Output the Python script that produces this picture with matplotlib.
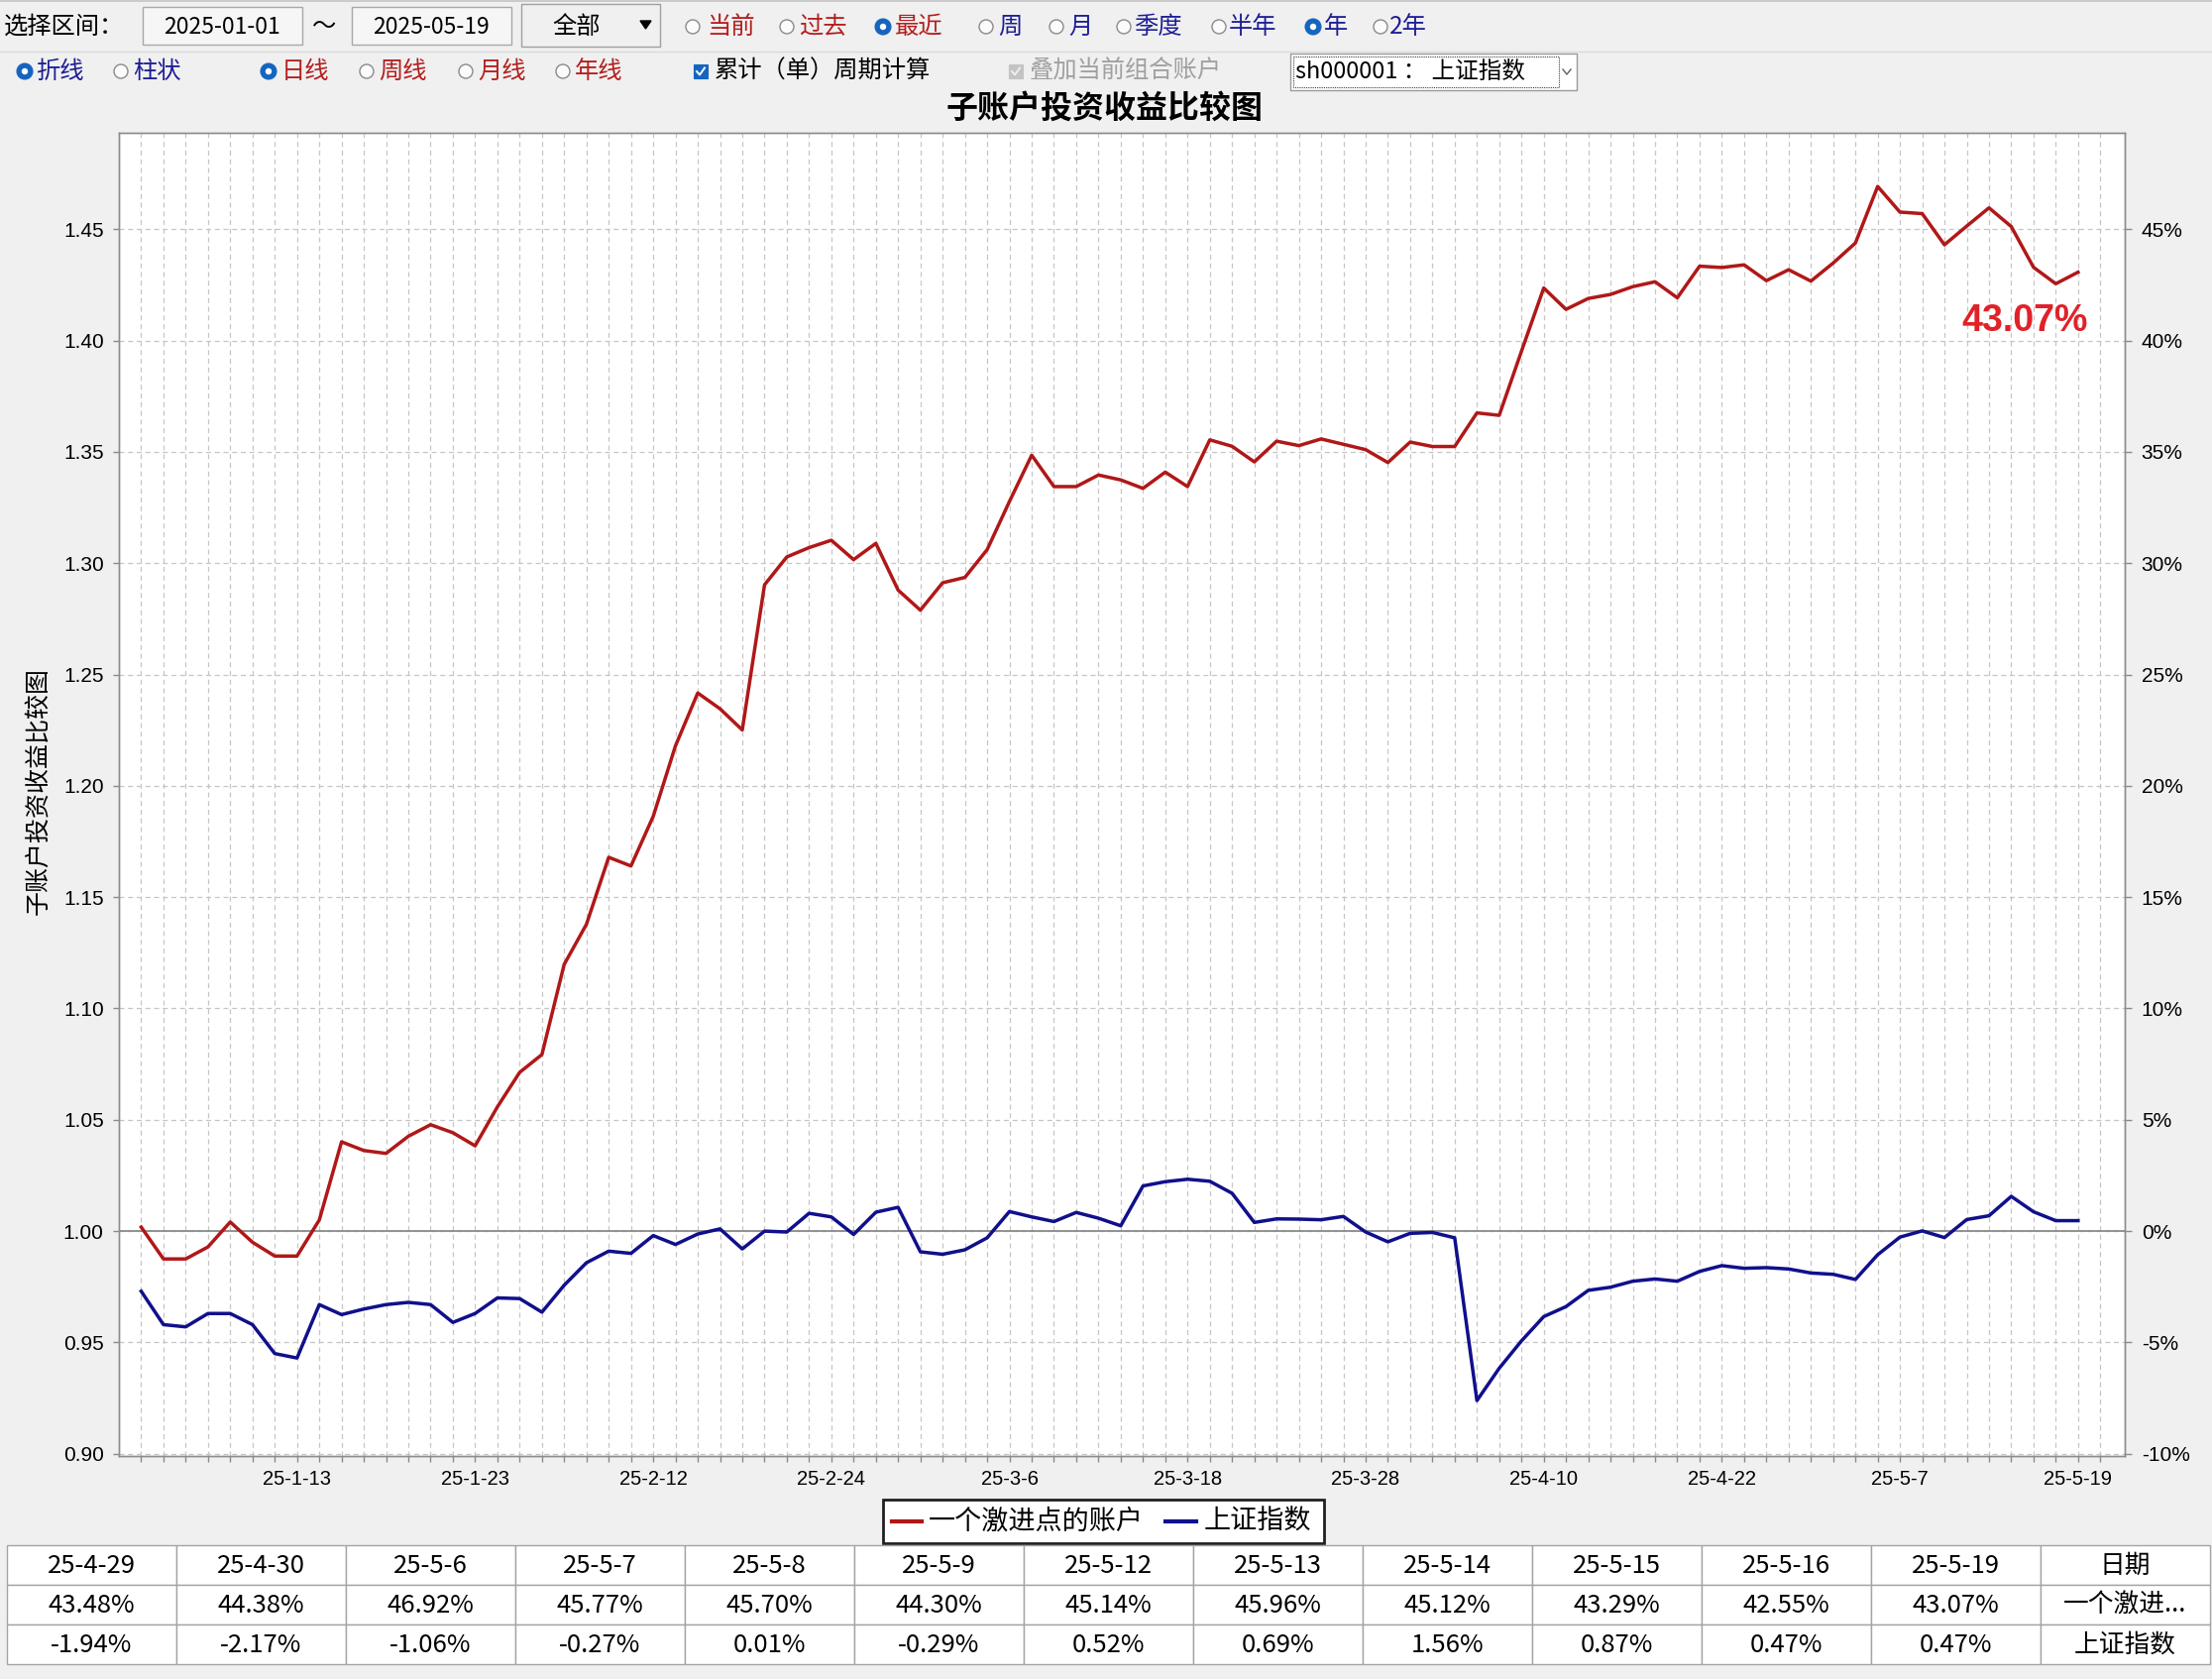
import numpy as np
import pandas as pd
import matplotlib
matplotlib.use("Agg")
import matplotlib.pyplot as plt
from matplotlib.patches import Rectangle, Circle, Polygon

# ---------------- data ----------------
holidays = ["2025-01-28", "2025-01-29", "2025-01-30", "2025-01-31", "2025-02-03",
            "2025-02-04", "2025-04-04", "2025-05-01", "2025-05-02", "2025-05-05"]
trade_days = [d for d in pd.bdate_range("2025-01-02", "2025-05-19")
              if d.strftime("%Y-%m-%d") not in holidays]

series_names = ["一个激进点的账户", "上证指数"]

account = [1.0018, 0.9875, 0.9875, 0.9929, 1.0041, 0.9950, 0.9888, 0.9888, 1.0050, 1.0401,
           1.0362, 1.0349, 1.0426, 1.0478, 1.0442, 1.0383, 1.0558, 1.0713, 1.0793, 1.1198,
           1.1378, 1.1679, 1.1640, 1.1863, 1.2180, 1.2417, 1.2346, 1.2251, 1.2903, 1.3028,
           1.3070, 1.3103, 1.3016, 1.3089, 1.2879, 1.2789, 1.2912, 1.2936, 1.3061, 1.3277,
           1.3485, 1.3344, 1.3344, 1.3396, 1.3374, 1.3336, 1.3409, 1.3344, 1.3554, 1.3525,
           1.3455, 1.3548, 1.3528, 1.3558, 1.3534, 1.3510, 1.3452, 1.3544, 1.3524, 1.3524,
           1.3675, 1.3664, 1.3952, 1.4236, 1.4140, 1.4189, 1.4207, 1.4242, 1.4264, 1.4192,
           1.4334, 1.4328, 1.4340, 1.4269, 1.4318, 1.4267, 1.4348, 1.4438, 1.4692, 1.4577,
           1.4570, 1.4430, 1.4514, 1.4596, 1.4512, 1.4329, 1.4255, 1.4307]

sse_index = [0.9730, 0.9580, 0.9570, 0.9630, 0.9630, 0.9580, 0.9450, 0.9430, 0.9670, 0.9625,
             0.9650, 0.9670, 0.9680, 0.9670, 0.9590, 0.9630, 0.9700, 0.9697, 0.9636, 0.9757,
             0.9858, 0.9910, 0.9900, 0.9980, 0.9940, 0.9987, 1.0010, 0.9920, 1.0000, 0.9996,
             1.0080, 1.0064, 0.9985, 1.0085, 1.0107, 0.9907, 0.9896, 0.9916, 0.9970, 1.0088,
             1.0064, 1.0043, 1.0084, 1.0058, 1.0024, 1.0203, 1.0222, 1.0233, 1.0224, 1.0170,
             1.0039, 1.0055, 1.0054, 1.0051, 1.0066, 0.9996, 0.9952, 0.9990, 0.9994, 0.9970,
             0.9239, 0.9384, 0.9507, 0.9616, 0.9661, 0.9734, 0.9748, 0.9775, 0.9785, 0.9775,
             0.9819, 0.9845, 0.9833, 0.9836, 0.9830, 0.9812, 0.9806, 0.9783, 0.9894, 0.9973,
             1.0001, 0.9971, 1.0052, 1.0069, 1.0156, 1.0087, 1.0047, 1.0047]

left_ticks = [0.90, 0.95, 1.00, 1.05, 1.10, 1.15, 1.20, 1.25, 1.30, 1.35, 1.40, 1.45]
right_ticks = [-10, -5, 0, 5, 10, 15, 20, 25, 30, 35, 40, 45]

table_dates = ["25-4-29", "25-4-30", "25-5-6", "25-5-7", "25-5-8", "25-5-9",
               "25-5-12", "25-5-13", "25-5-14", "25-5-15", "25-5-16", "25-5-19"]
table_account = ["43.48%", "44.38%", "46.92%", "45.77%", "45.70%", "44.30%",
                 "45.14%", "45.96%", "45.12%", "43.29%", "42.55%", "43.07%"]
table_sse = ["-1.94%", "-2.17%", "-1.06%", "-0.27%", "0.01%", "-0.29%",
             "0.52%", "0.69%", "1.56%", "0.87%", "0.47%", "0.47%"]
table_side = ["日期", "一个激进...", "上证指数"]

# ---------------- figure ----------------
W, H = 2232, 1694
DPI = 100
BG = "#f0f0f0"
CJK = ["Noto Sans CJK SC", "DejaVu Sans"]
LAT = ["Liberation Sans", "DejaVu Sans"]
RED_T = "#b41e1e"
BLUE_T = "#1e1e96"
RED_L = "#b01818"
BLUE_L = "#10108c"

fig = plt.figure(figsize=(W / DPI, H / DPI), dpi=DPI, facecolor=BG)

# overlay axes in pixel coordinates for the window widgets
ui = fig.add_axes([0, 0, 1, 1])
ui.set_xlim(0, W)
ui.set_ylim(H, 0)
ui.axis("off")

def txt(x, y, s, size=17.5, color="black", ha="left", va="center", **kw):
    ui.text(x, y, s, fontsize=size, color=color, ha=ha, va=va, family=CJK, **kw)

def radio(x, y, checked):
    if checked:
        ui.add_patch(Circle((x, y), 8.0, fc="#1565c0", ec="#1565c0", lw=0.8))
        ui.add_patch(Circle((x, y), 3.2, fc="white", ec="none"))
    else:
        ui.add_patch(Circle((x, y), 7.0, fc="#fbfbfb", ec="#8a8a8a", lw=1.0))

def checkbox(x, y, fc, cc):
    ui.add_patch(Rectangle((x - 7, y - 7), 14, 14, fc=fc, ec=fc, lw=0.8))
    ui.plot([x - 4, x - 1, x + 4], [y, y + 3.5, y - 3.5], color=cc, lw=1.4)

# lines of the window
ui.plot([0, W], [1.5, 1.5], color="#c4c4c4", lw=1.2)
ui.plot([0, W], [52, 52], color="#dadada", lw=1.0)

# row 1
R1 = 27
txt(4, R1, "选择区间：")
ui.add_patch(Rectangle((144, 7), 161, 38, fc="#f6f6f6", ec="#a8a8a8", lw=1))
txt(224, R1, "2025-01-01", ha="center", size=16.5)
txt(327, R1, "～", ha="center")
ui.add_patch(Rectangle((355, 7), 161, 38, fc="#f6f6f6", ec="#a8a8a8", lw=1))
txt(435, R1, "2025-05-19", ha="center", size=16.5)
ui.add_patch(Rectangle((526, 4), 140, 43, fc="#f0f0f0", ec="#a0a0a0", lw=1))
txt(582, R1, "全部", ha="center")
ui.add_patch(Polygon([[646, 21], [657, 21], [651.5, 29]], closed=True, fc="black", ec="black"))

row1 = [(699, 713, "当前", RED_T, False), (794, 806, "过去", RED_T, False),
        (891, 903, "最近", RED_T, True), (995, 1007, "周", BLUE_T, False),
        (1066, 1078, "月", BLUE_T, False), (1134, 1144, "季度", BLUE_T, False),
        (1230, 1240, "半年", BLUE_T, False), (1325, 1336, "年", BLUE_T, True),
        (1393, 1402, "2年", BLUE_T, False)]
for cx, tx, s, col, chk in row1:
    radio(cx, R1, chk)
    txt(tx, R1, s, color=col)

# row 2
R2 = 72
row2 = [(25, 36, "折线", BLUE_T, True), (122, 134, "柱状", BLUE_T, False),
        (271, 284, "日线", RED_T, True), (370, 382, "周线", RED_T, False),
        (470, 482, "月线", RED_T, False), (568, 580, "年线", RED_T, False)]
for cx, tx, s, col, chk in row2:
    radio(cx, R2, chk)
    txt(tx, R2, s, color=col)
checkbox(707, R2, "#1565c0", "white")
txt(721, R2, "累计（单）周期计算")
checkbox(1025, R2, "#c4c4c4", "#eeeeee")
txt(1039, R2, "叠加当前组合账户", color="#a0a0a0")
ui.add_patch(Rectangle((1302, 54), 289, 37, fc="white", ec="#9a9a9a", lw=1))
ui.add_patch(Rectangle((1305, 57), 268, 31, fc="none", ec="#404040", lw=0.8, ls=(0, (1, 1))))
txt(1307, R2, "sh000001 ： 上证指数", size=17)
ui.plot([1577, 1581, 1585], [70, 75, 70], color="#606060", lw=1)

# title and y label
txt(1115, 110, "子账户投资收益比较图", ha="center", size=23, weight="bold")
txt(38, 798, "子账户投资收益比较图", ha="center", size=18, rotation=90)

# ---------------- main chart ----------------
L, R, T, B = 120, 2144, 134, 1469
ax = fig.add_axes([L / W, 1 - B / H, (R - L) / W, (B - T) / H])
ax.set_facecolor("white")
x = np.arange(len(trade_days))
ax.plot(x, account, color=RED_L, lw=2.5, zorder=4, solid_joinstyle="round")
ax.plot(x, sse_index, color=BLUE_L, lw=2.5, zorder=4, solid_joinstyle="round")

YMIN, YMAX = 0.899, 1.4933
ax.set_xlim(-1, 89.1)
ax.set_ylim(YMIN, YMAX)

ax.set_xticks(np.arange(0, len(trade_days) + 1))
xlabels = [""] * (len(trade_days) + 1)
for i in range(7, len(trade_days), 8):
    d = trade_days[i]
    xlabels[i] = f"{d.year % 100}-{d.month}-{d.day}"
ax.set_xticklabels(xlabels, family=LAT, fontsize=14.5)
ax.set_yticks(left_ticks)
ax.set_yticklabels([f"{v:.2f}" for v in left_ticks], family=LAT, fontsize=15)

ax.grid(True, which="major", ls=(0, (4, 3)), color="#c6c6c6", lw=0.9, zorder=1)
ax.axhline(1.0, color="#8a8a8a", lw=1.3, zorder=2)
ax.tick_params(axis="both", direction="out", length=4, color="#8a8a8a", width=1)
ax.tick_params(axis="x", pad=6)
ax.tick_params(axis="y", pad=7)
for sp in ax.spines.values():
    sp.set_color("#8c8c8c")
    sp.set_linewidth(1.0)

ax2 = ax.twinx()
ax2.set_ylim((YMIN - 1) * 100, (YMAX - 1) * 100)
ax2.set_yticks(right_ticks)
ax2.set_yticklabels([f"{v}%" for v in right_ticks], family=LAT, fontsize=15)
ax2.tick_params(axis="y", direction="out", length=5, color="#8a8a8a", width=1, pad=7)
for sp in ax2.spines.values():
    sp.set_color("#8c8c8c")
    sp.set_linewidth(1.0)

# final value annotation
ui.text(2043, 324, f"{(account[-1] - 1) * 100:.2f}%", fontsize=27, color="#e02228",
        ha="center", va="center", family=LAT, weight="bold", zorder=10)
ui.set_zorder(5)
ui.patch.set_alpha(0)

# ---------------- legend ----------------
ui.add_patch(Rectangle((891, 1513), 445, 44, fc="white", ec="#202020", lw=2))
ui.plot([900, 930], [1535, 1535], color=RED_L, lw=3)
txt(937, 1535, series_names[0], size=19.5)
ui.plot([1176, 1207], [1535, 1535], color=BLUE_L, lw=3)
txt(1215, 1535, series_names[1], size=19.5)

# ---------------- table ----------------
TX0, TY0, CW, RH = 7, 1559, 171, 40
rows = [table_dates + [table_side[0]],
        table_account + [table_side[1]],
        table_sse + [table_side[2]]]
for r, row in enumerate(rows):
    for c, s in enumerate(row):
        ui.add_patch(Rectangle((TX0 + c * CW, TY0 + r * RH), CW, RH,
                               fc="white", ec="#a4a4a4", lw=1))
        txt(TX0 + c * CW + CW / 2, TY0 + r * RH + RH / 2 + 1, s, ha="center", size=18.5)

fig.savefig("out.png", dpi=DPI, facecolor=BG)
